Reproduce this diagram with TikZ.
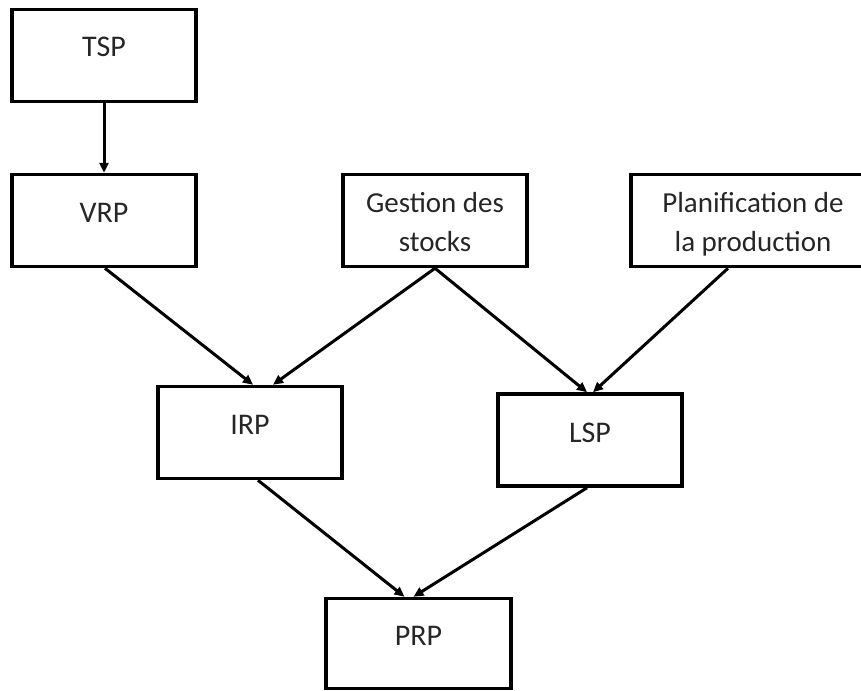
\documentclass[tikz,border=0pt]{standalone}
\usepackage{fontspec}
\setmainfont{Carlito}
\usetikzlibrary{arrows.meta}
\begin{document}
\begin{tikzpicture}[x=1pt,y=-1pt,
  box/.style={draw, line width=3.5pt, minimum width=#1, minimum height=92pt, inner sep=0pt},
  lbl/.style={anchor=base, inner sep=0pt, text=black!85, font=\fontsize{30}{39}\selectfont},
  lbltwo/.style={anchor=base, inner sep=0pt, text=black!85, font=\fontsize{29}{39}\selectfont},
  link/.style={line width=3pt, -{Triangle[length=10pt,width=9pt]}}
]
\useasboundingbox (0,0) rectangle (861,690);

% boxes
\node[box=184pt] (tsp)  at (104,55.5) {};
\node[box=184pt] (vrp)  at (104,220.5) {};
\node[box=184pt] (gest) at (435,220.5) {};
\node[box=244pt] (plan) at (753,220.5) {};
\node[box=184pt] (irp)  at (250,432.5) {};
\node[box=184pt] (lsp)  at (590,440) {};
\node[box=185pt, minimum height=90pt] (prp) at (418.5,643.5) {};

% labels
\node[lbl] (tsp-t) at (104,57) {TSP};
\node[lbl] (vrp-t) at (104,222) {VRP};
\node[lbltwo] (gest-a) at (435,212) {Gestion des};
\node[lbltwo] (gest-b) at (435,251) {stocks};
\node[lbltwo] (plan-a) at (753,212) {Planification de};
\node[lbltwo] (plan-b) at (753,251) {la production};
\node[lbl] (irp-t) at (250,434) {IRP};
\node[lbl] (lsp-t) at (590,442) {LSP};
\node[lbl] (prp-t) at (418.5,645) {PRP};

% connectors
\draw[link] (tsp.south) -- (vrp.north);
\draw[link] ([xshift=1pt]vrp.south) -- ([xshift=3pt]irp.north);
\draw[link] (gest.south) -- ([xshift=23pt]irp.north);
\draw[link] (gest.south) -- ([xshift=-3pt]lsp.north);
\draw[link] ([xshift=-25pt]plan.south) -- ([xshift=3pt]lsp.north);
\draw[link] ([xshift=8pt]irp.south) -- ([xshift=-14pt]prp.north);
\draw[link] ([xshift=-3pt]lsp.south) -- ([xshift=-5pt]prp.north);
\end{tikzpicture}
\end{document}
